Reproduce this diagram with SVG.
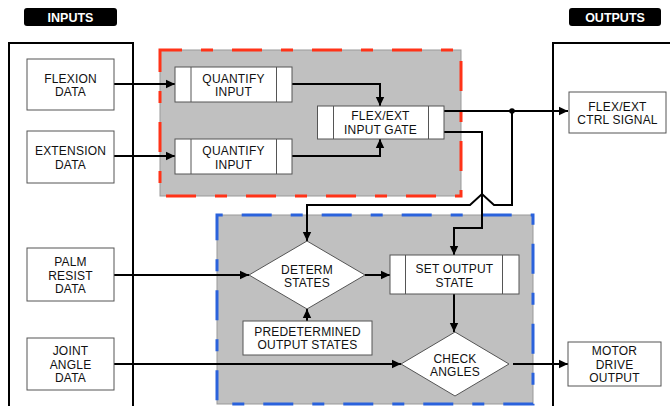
<svg xmlns="http://www.w3.org/2000/svg" width="670" height="406" viewBox="0 0 670 406">
<defs>
<marker id="ah" markerWidth="10" markerHeight="10" refX="9" refY="5" orient="auto" markerUnits="userSpaceOnUse">
<path d="M0,0.8 L9,5 L0,9.2 Z" fill="#000"/>
</marker>
<style>
.t{font-family:"Liberation Sans",Arial,sans-serif;font-size:12px;letter-spacing:0.2px;fill:#111;text-anchor:middle}
.lbl{font-family:"Liberation Sans",Arial,sans-serif;font-size:12.5px;font-weight:bold;fill:#fff;text-anchor:middle}
.box{fill:#fff;stroke:#555;stroke-width:1}
.inner{stroke:#555;stroke-width:1}
.panel{fill:none;stroke:#000;stroke-width:2}
.c{fill:none;stroke:#000;stroke-width:2}
.ca{fill:none;stroke:#000;stroke-width:2;marker-end:url(#ah)}
</style>
</defs>
<rect width="670" height="406" fill="#fff"/>

<g id="inputs-label"><rect x="24" y="8" width="93" height="18" rx="3" fill="#000"/><text class="lbl" x="70.5" y="22">INPUTS</text></g>
<g id="outputs-label"><rect x="569" y="8" width="92" height="18" rx="3" fill="#000"/><text class="lbl" x="615" y="22">OUTPUTS</text></g>

<g id="input-panel"><path class="panel" d="M9,412 V43 H133 V412"/></g>
<g id="output-panel"><path class="panel" d="M553,412 V43 H680"/></g>

<g id="quantify-region">
<rect x="160" y="50" width="301" height="146" fill="#c0c0c0" stroke="#999" stroke-width="1"/>
<rect x="160" y="50" width="301" height="146" fill="none" stroke="#ff3318" stroke-width="3" stroke-dasharray="30 19 12 19" stroke-dashoffset="8"/>
</g>
<g id="control-region">
<rect x="217" y="215" width="316" height="189" fill="#c0c0c0" stroke="#999" stroke-width="1"/>
<rect x="217" y="215" width="316" height="189" fill="none" stroke="#2a62dc" stroke-width="3" stroke-dasharray="30 19 12 19" stroke-dashoffset="-24.7"/>
</g>

<g id="connectors">
<path class="ca" d="M114,84 H175"/>
<path class="ca" d="M114,156 H175"/>
<path class="ca" d="M292,84 H380 V106"/>
<path class="ca" d="M292,156 H380 V139"/>
<path class="ca" d="M444,111 H568"/>
<circle cx="512" cy="111" r="2.8" fill="#000"/>
<path class="ca" d="M512,111 V205 H494 L482,194 L470,205 H307 V241"/>
<path class="ca" d="M444,132 H482 V228 H454 V255"/>
<path class="ca" d="M114,275 H249"/>
<path class="ca" d="M365,275 H390"/>
<path class="ca" d="M307,321 V309"/>
<path class="ca" d="M454,294 V332"/>
<path class="ca" d="M114,364 H401"/>
<path class="ca" d="M513,364 H568"/>
</g>

<g id="flexion-data"><rect class="box" x="27" y="59" width="87" height="51"/><text class="t" x="70.5" y="82.8">FLEXION</text><text class="t" x="70.5" y="96.2">DATA</text></g>
<g id="extension-data"><rect class="box" x="27" y="131" width="87" height="52"/><text class="t" x="70.5" y="155.3">EXTENSION</text><text class="t" x="70.5" y="168.7">DATA</text></g>
<g id="palm-resist-data"><rect class="box" x="27" y="248" width="87" height="53"/><text class="t" x="70.5" y="266.1">PALM</text><text class="t" x="70.5" y="279.5">RESIST</text><text class="t" x="70.5" y="292.9">DATA</text></g>
<g id="joint-angle-data"><rect class="box" x="27" y="338" width="87" height="52"/><text class="t" x="70.5" y="355.3">JOINT</text><text class="t" x="70.5" y="368.7">ANGLE</text><text class="t" x="70.5" y="382.1">DATA</text></g>

<g id="quantify-input-1"><rect class="box" x="175" y="67" width="117" height="35"/><line class="inner" x1="191" y1="67" x2="191" y2="102"/><line class="inner" x1="276.5" y1="67" x2="276.5" y2="102"/><text class="t" x="233.5" y="82.8">QUANTIFY</text><text class="t" x="233.5" y="96.2">INPUT</text></g>
<g id="quantify-input-2"><rect class="box" x="175" y="139" width="117" height="35"/><line class="inner" x1="191" y1="139" x2="191" y2="174"/><line class="inner" x1="276.5" y1="139" x2="276.5" y2="174"/><text class="t" x="233.5" y="155.3">QUANTIFY</text><text class="t" x="233.5" y="168.7">INPUT</text></g>
<g id="flex-ext-input-gate"><rect class="box" x="317.5" y="106" width="126.5" height="33"/><line class="inner" x1="333.5" y1="106" x2="333.5" y2="139"/><line class="inner" x1="428.5" y1="106" x2="428.5" y2="139"/><text class="t" x="380.5" y="120.3">FLEX/EXT</text><text class="t" x="380.5" y="133.7">INPUT GATE</text></g>

<g id="flex-ext-ctrl-signal"><rect class="box" x="569" y="92" width="97" height="41"/><text class="t" x="617.5" y="110.8">FLEX/EXT</text><text class="t" x="617.5" y="124.2">CTRL SIGNAL</text></g>

<g id="determ-states"><path class="box" d="M307,241 L365,275 L307,309 L249,275 Z"/><text class="t" x="307" y="273.6">DETERM</text><text class="t" x="307" y="287">STATES</text></g>
<g id="predetermined-output-states"><rect class="box" x="243" y="321" width="129" height="34"/><text class="t" x="307.5" y="335.6">PREDETERMINED</text><text class="t" x="307.5" y="349">OUTPUT STATES</text></g>
<g id="set-output-state"><rect class="box" x="390" y="255" width="129" height="39"/><line class="inner" x1="405.5" y1="255" x2="405.5" y2="294"/><line class="inner" x1="502.5" y1="255" x2="502.5" y2="294"/><text class="t" x="454.5" y="273.3">SET OUTPUT</text><text class="t" x="454.5" y="286.7">STATE</text></g>
<g id="check-angles"><path class="box" d="M455,332 L509,364 L455,396 L401,364 Z"/><text class="t" x="455" y="362.6">CHECK</text><text class="t" x="455" y="376">ANGLES</text></g>

<g id="motor-drive-output"><rect class="box" x="568" y="342" width="93" height="44"/><text class="t" x="614.5" y="355.3">MOTOR</text><text class="t" x="614.5" y="368.7">DRIVE</text><text class="t" x="614.5" y="382.1">OUTPUT</text></g>
</svg>
